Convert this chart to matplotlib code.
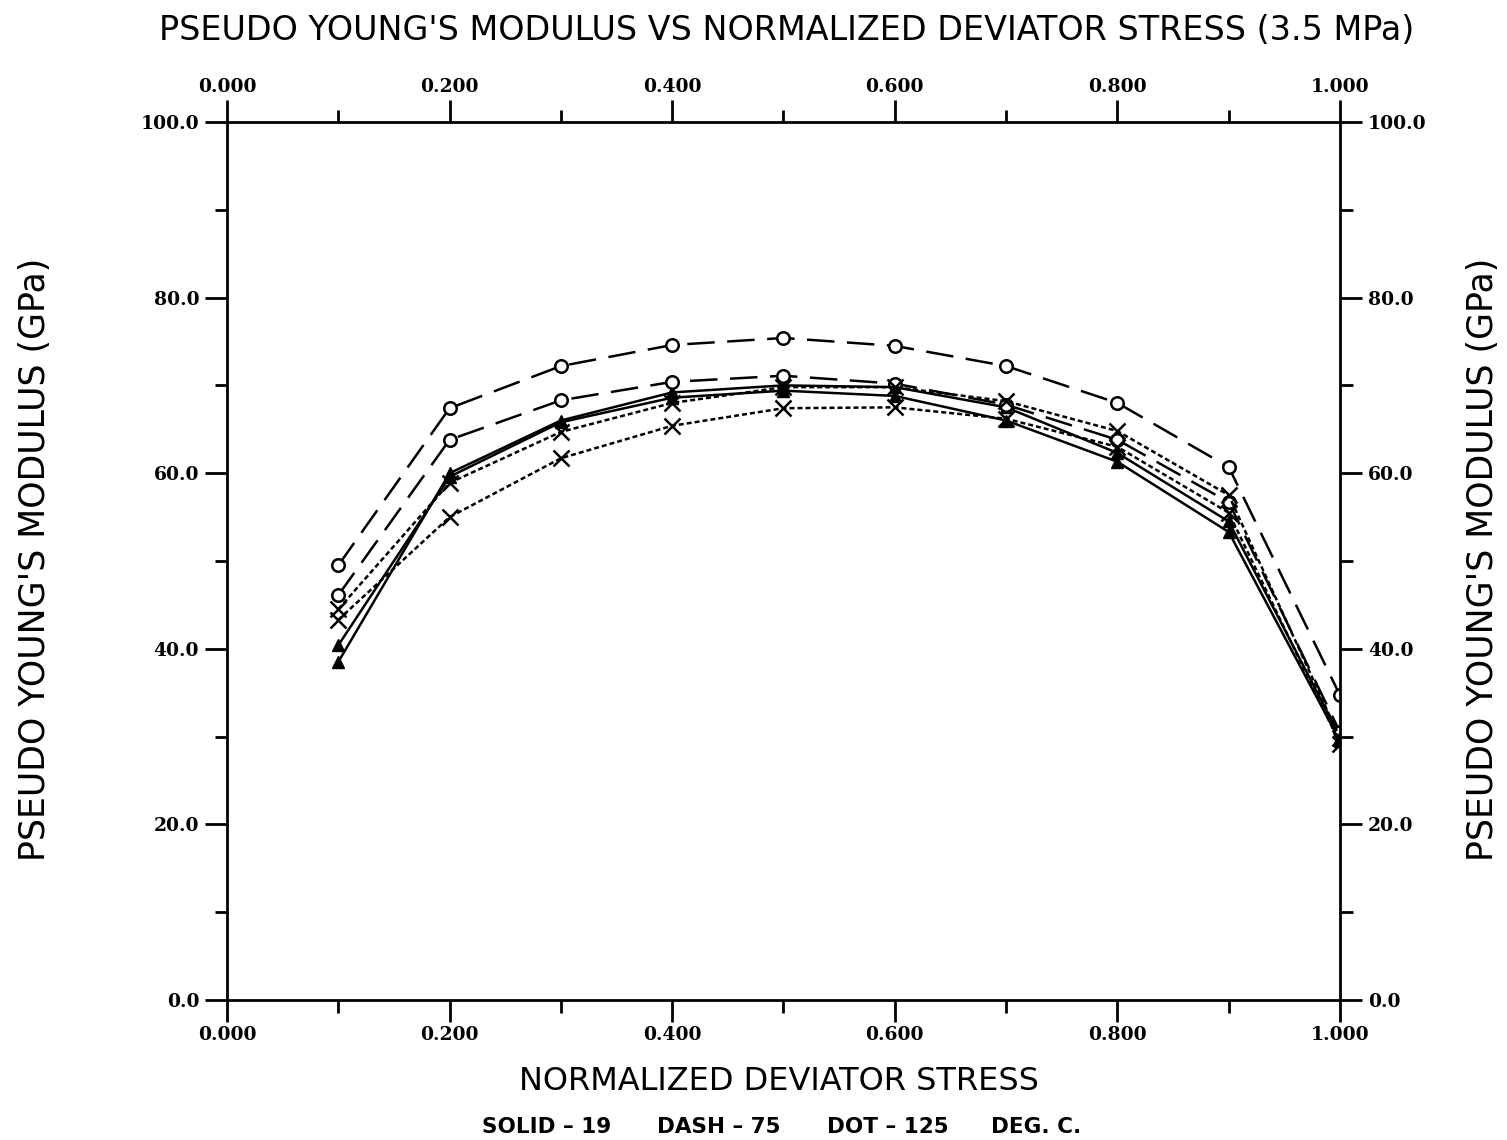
import matplotlib
matplotlib.use("Agg")
from matplotlib import pyplot as plt
from matplotlib.ticker import MultipleLocator, FormatStrFormatter

# normalized deviator stress
x = [0.1, 0.2, 0.3, 0.4, 0.5, 0.6, 0.7, 0.8, 0.9, 1.0]

# solid - 19 deg C
solid_a = [38.5, 60.0, 66.0, 69.2, 70.0, 69.8, 67.5, 62.3, 54.5, 30.0]
solid_b = [40.4, 59.6, 65.8, 68.6, 69.4, 68.8, 66.0, 61.3, 53.3, 29.5]
# dash - 75 deg C
dash_a = [49.5, 67.4, 72.2, 74.6, 75.4, 74.5, 72.2, 68.0, 60.7, 34.7]
dash_b = [46.1, 63.8, 68.3, 70.4, 71.1, 70.2, 67.8, 63.8, 56.7, 30.5]
# dot - 125 deg C
dot_a = [44.5, 58.9, 64.7, 68.0, 69.8, 69.8, 68.2, 64.8, 57.5, 29.8]
dot_b = [43.3, 55.0, 61.7, 65.4, 67.4, 67.5, 66.2, 63.0, 55.5, 29.2]

legend_parts = ["SOLID \u2013 19", "DASH \u2013 75", "DOT \u2013 125", "DEG. C."]

fig = plt.figure(figsize=(15.07, 11.4), dpi=100)
ax = fig.add_axes([0.1506, 0.1228, 0.8892 - 0.1506, 0.893 - 0.1228])

lw = 1.8
for y in (solid_a, solid_b):
    ax.plot(x, y, color='black', lw=lw, ls='-', marker='^', ms=8,
            mfc='black', mec='black')
for y in (dash_a, dash_b):
    ax.plot(x, y, color='black', lw=lw, ls=(0, (11, 5)), marker='o', ms=9,
            mfc='white', mec='black', mew=1.8)
for y in (dot_a, dot_b):
    ax.plot(x, y, color='black', lw=lw, ls=(0, (2, 1.2)), marker='x', ms=11,
            mec='black', mew=1.8)

ax.set_xlim(0, 1)
ax.set_ylim(0, 100)
ax.xaxis.set_major_locator(MultipleLocator(0.2))
ax.xaxis.set_minor_locator(MultipleLocator(0.1))
ax.yaxis.set_major_locator(MultipleLocator(20))
ax.yaxis.set_minor_locator(MultipleLocator(10))
ax.xaxis.set_major_formatter(FormatStrFormatter('%.3f'))
ax.yaxis.set_major_formatter(FormatStrFormatter('%.1f'))

ax.tick_params(which='both', direction='out', top=True, right=True,
               labeltop=True, labelright=True, width=2, color='black')
ax.tick_params(which='major', length=16, pad=4)
ax.tick_params(which='minor', length=9)
ax.tick_params(axis='x', which='major', pad=3)
for s in ax.spines.values():
    s.set_linewidth(2)

# tick labels: bold serif on all four sides
for t in ax.xaxis.get_major_ticks() + ax.yaxis.get_major_ticks():
    for lab in (t.label1, t.label2):
        lab.set_family('DejaVu Serif')
        lab.set_fontweight('bold')
        lab.set_fontsize(13.5)

fig.text(0.522, 0.973, "PSEUDO YOUNG'S MODULUS VS NORMALIZED DEVIATOR STRESS (3.5 MPa)",
         ha='center', va='center', fontsize=24, family='DejaVu Sans')
fig.text(0.517, 0.051, "NORMALIZED DEVIATOR STRESS", ha='center', va='center',
         fontsize=23, family='DejaVu Sans')
fig.text(0.023, 0.509, "PSEUDO YOUNG'S MODULUS (GPa)", ha='center', va='center',
         rotation=90, fontsize=25, family='DejaVu Sans')
fig.text(0.984, 0.509, "PSEUDO YOUNG'S MODULUS (GPa)", ha='center', va='center',
         rotation=90, fontsize=25, family='DejaVu Sans')

for part, xf in zip(legend_parts, [0.3625, 0.4767, 0.589, 0.6877]):
    fig.text(xf, 0.011, part, ha='center', va='center', fontsize=15.5,
             fontweight='bold', family='DejaVu Sans')

fig.savefig('out.png', dpi=100, facecolor='white')
